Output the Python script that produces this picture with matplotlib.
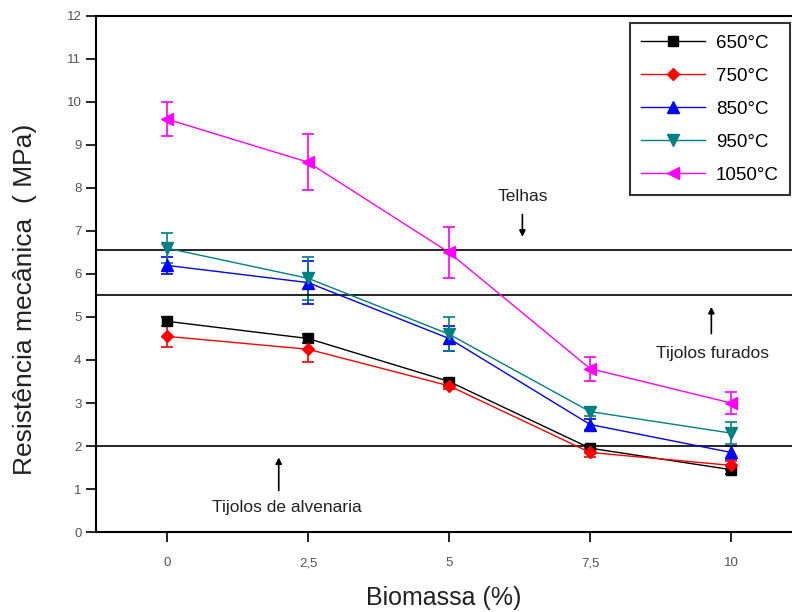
import numpy as np
import matplotlib.pyplot as plt
from matplotlib.lines import Line2D

plt.rcParams['font.family'] = ['Liberation Sans', 'DejaVu Sans']

# Biomassa (%) e resistencia mecanica (MPa) por temperatura de queima
biomassa = [0, 2.5, 5, 7.5, 10]
temperaturas = ['650°C', '750°C', '850°C', '950°C', '1050°C']

r650 = [4.9, 4.5, 3.5, 1.95, 1.45]
r750 = [4.55, 4.25, 3.4, 1.85, 1.55]
r850 = [6.2, 5.8, 4.5, 2.5, 1.85]
r950 = [6.6, 5.9, 4.6, 2.8, 2.3]
r1050 = [9.6, 8.6, 6.5, 3.8, 3.0]

e650 = [0.1, 0.1, 0.08, 0.08, 0.1]
e750 = [0.25, 0.3, 0.08, 0.1, 0.1]
e850 = [0.2, 0.5, 0.3, 0.12, 0.15]
e950 = [0.35, 0.5, 0.4, 0.1, 0.25]
e1050 = [0.4, 0.65, 0.6, 0.28, 0.25]

# limites normativos
limites = [6.55, 5.5, 2.0]

series = [r650, r750, r850, r950, r1050]
erros = [e650, e750, e850, e950, e1050]
cores = ['black', 'red', 'blue', '#008080', '#ff00ff']
marcadores = ['s', 'D', '^', 'v', '<']
tamanhos = [7, 6, 8, 8, 9]

fig = plt.figure(figsize=(7.92, 6.12), dpi=100)
ax = fig.add_axes([0.1212, 0.1307, 0.8788, 0.8432])

handles = []
for y, e, c, m, ms, lab in zip(series, erros, cores, marcadores, tamanhos, temperaturas):
    ax.errorbar(biomassa, y, yerr=e, color=c, marker=m, markersize=ms,
                linewidth=1, elinewidth=1.2, capsize=4, capthick=1.2)
    handles.append(Line2D([], [], color=c, marker=m, markersize=ms, linewidth=1, label=lab))

for lim in limites:
    ax.axhline(lim, color='black', linewidth=1.2)

txt = dict(fontsize=12.5, color='#222222')
ax.text(6.3, 7.8, 'Telhas', ha='center', va='center', **txt)
ax.annotate('', xy=(6.3, 6.8), xytext=(6.3, 7.45),
            arrowprops=dict(arrowstyle='-|>', color='black', lw=1.2, mutation_scale=9))
ax.text(9.67, 4.16, 'Tijolos furados', ha='center', va='center', **txt)
ax.annotate('', xy=(9.65, 5.3), xytext=(9.65, 4.55),
            arrowprops=dict(arrowstyle='-|>', color='black', lw=1.2, mutation_scale=9))
ax.text(2.13, 0.58, 'Tijolos de alvenaria', ha='center', va='center', **txt)
ax.annotate('', xy=(1.98, 1.8), xytext=(1.98, 0.9),
            arrowprops=dict(arrowstyle='-|>', color='black', lw=1.2, mutation_scale=9))

ax.set_xlim(-1.26, 11.08)
ax.set_ylim(0, 12)
ax.set_xticks(biomassa)
ax.set_xticklabels(['0', '2,5', '5', '7,5', '10'])
ax.set_yticks(range(0, 13))
ax.tick_params(direction='out', length=7, width=1.2, labelsize=9.5, labelcolor='#555555')
ax.tick_params(axis='x', pad=11)
ax.spines['right'].set_visible(False)
for s in ['left', 'bottom', 'top']:
    ax.spines[s].set_linewidth(1.5)

ax.set_xlabel('Biomassa (%)', fontsize=18, color='#222222', labelpad=12)
ax.set_ylabel('Resistência mecânica  ( MPa)', fontsize=19, color='#222222')
ax.yaxis.set_label_coords(-0.085, 0.45)

leg = ax.legend(handles=handles, loc='upper right', bbox_to_anchor=(0.997, 0.986),
                borderaxespad=0, fontsize=13.5, frameon=True, fancybox=False,
                edgecolor='black', handlelength=3.4, borderpad=0.6, labelspacing=0.85,
                handletextpad=0.6)
leg.get_frame().set_linewidth(1.5)

fig.savefig('out.png', dpi=100)
